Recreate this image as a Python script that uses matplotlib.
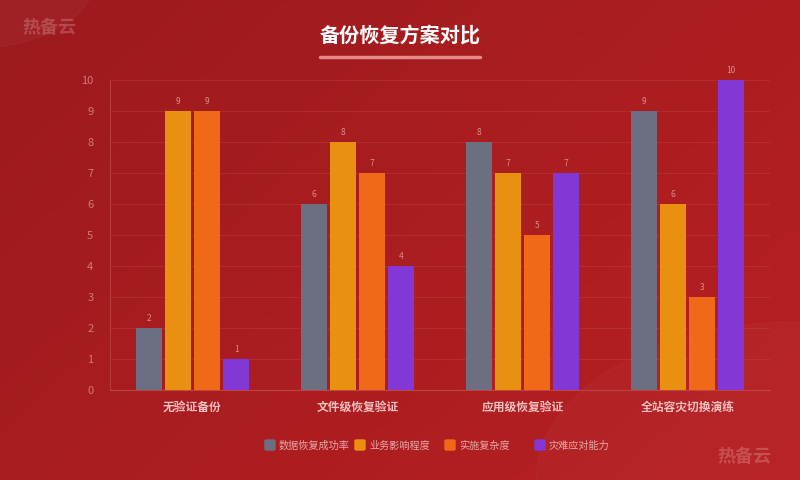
import numpy as np
import matplotlib
matplotlib.use('Agg')
import matplotlib.pyplot as plt
from matplotlib.patches import Circle, FancyBboxPatch

plt.rcParams['font.family'] = ['Noto Sans CJK SC', 'DejaVu Sans']

categories = ['无验证备份', '文件级恢复验证', '应用级恢复验证', '全站容灾切换演练']
series_names = ['数据恢复成功率', '业务影响程度', '实施复杂度', '灾难应对能力']
success_rate = [2, 6, 8, 9]
business_impact = [9, 8, 7, 6]
complexity = [9, 7, 5, 3]
disaster_ability = [1, 4, 7, 10]
colors = ['#6c6f82', '#ea9010', '#ef6919', '#8338d6']

fig = plt.figure(figsize=(8, 4.8), dpi=100)

# background gradient
bg = fig.add_axes([0, 0, 1, 1])
xx, yy = np.meshgrid(np.linspace(0, 1, 200), np.linspace(0, 1, 120))
t = (xx * 0.6 + yy * 0.4)
c0 = np.array([0x9c, 0x1a, 0x1e]) / 255
c1 = np.array([0xb8, 0x20, 0x22]) / 255
img = c0[None, None, :] * (1 - t[..., None]) + c1[None, None, :] * t[..., None]
bg.imshow(img, extent=[0, 1, 0, 1], aspect='auto', origin='upper')
bg.add_patch(Circle((-0.03, 1.05), 0.15, transform=bg.transAxes, color='white', alpha=0.03))
bg.add_patch(Circle((1.0, 0.0), 0.33, transform=bg.transAxes, color='white', alpha=0.025))
bg.set_xlim(0, 1)
bg.set_ylim(0, 1)
bg.axis('off')

ax = fig.add_axes([0.1375, 0.1875, 0.825, 0.6458])
ax.set_facecolor('none')
x = np.arange(len(categories))
width = 0.158
step = 0.176
data = [success_rate, business_impact, complexity, disaster_ability]
for i, (vals, col) in enumerate(zip(data, colors)):
    pos = x + (i - 1.5) * step
    ax.bar(pos, vals, width, color=col, zorder=3)
    for p, v in zip(pos, vals):
        ax.text(p, v + 0.15, str(v), ha='center', va='bottom', fontsize=6,
                color='#e08a8a', zorder=4)

ax.set_xlim(-0.5, 3.5)
ax.set_ylim(0, 10)
ax.set_yticks(range(0, 11))
ax.set_xticks(x)
ax.set_xticklabels(categories, fontsize=8.5, color='#f2c0c0', fontweight='semibold')
ax.tick_params(axis='y', colors='#d47878', labelsize=8, length=0, pad=12)
ax.tick_params(axis='x', length=0, pad=8)
ax.grid(axis='y', color='#c84a4a', alpha=0.35, linewidth=0.8, zorder=0)
for s in ['top', 'right']:
    ax.spines[s].set_visible(False)
ax.spines['left'].set_color('#b83a3a')
ax.spines['bottom'].set_color('#c04444')

# legend, laid out by hand
for i, (name, col) in enumerate(zip(series_names, colors)):
    lx = (265 + 90 * i) / 800
    fig.add_artist(FancyBboxPatch((lx, 1 - 450 / 480), 10 / 800, 10 / 480,
                                  boxstyle='round,pad=0,rounding_size=0.002',
                                  transform=fig.transFigure, color=col))
    fig.text(lx + 14 / 800, 1 - 446 / 480, name, ha='left', va='center', fontsize=7.3,
             color='#e8a8a8')

fig.text(0.5, 0.927, '备份恢复方案对比', ha='center', va='center', fontsize=14.5,
         fontweight='bold', color='white')
fig.add_artist(plt.Line2D([0.4, 0.6], [0.881, 0.881], color='#e58a8a', linewidth=2.5,
                          solid_capstyle='round'))

fig.text(0.0275, 0.942, '热备云', ha='left', va='center', fontsize=13, fontweight='bold',
         color='white', alpha=0.2)
fig.text(0.897, 0.05, '热备云', ha='left', va='center', fontsize=13, fontweight='bold',
         color='white', alpha=0.2)

fig.savefig('out.png', dpi=100)
